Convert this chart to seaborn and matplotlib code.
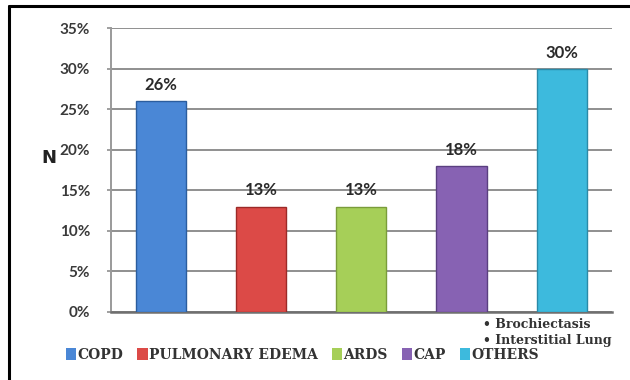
import matplotlib
matplotlib.use("Agg")
import matplotlib.pyplot as plt
import seaborn as sns
import pandas as pd
from matplotlib.patches import Patch
from matplotlib.lines import Line2D

categories = ["COPD", "PULMONARY EDEMA", "ARDS", "CAP", "OTHERS"]
values = [26, 13, 13, 18, 30]
value_labels = ["26%", "13%", "13%", "18%", "30%"]
y_ticks = [0, 5, 10, 15, 20, 25, 30, 35]
y_tick_labels = ["0%", "5%", "10%", "15%", "20%", "25%", "30%", "35%"]
notes = ["• Brochiectasis", "• Interstitial Lung"]
colors = ["#4a87d6", "#dc4a47", "#a6cf58", "#8762b3", "#3dbadd"]
edge_colors = ["#2b5d9e", "#9c2a28", "#7a9c3a", "#5a3f80", "#2a8aa8"]

sns.set_theme(style="white")
plt.rcParams["font.family"] = ["Lato", "DejaVu Sans"]

df = pd.DataFrame({"cat": categories, "val": values})

fig = plt.figure(figsize=(6.3, 3.8), dpi=100)
ax = fig.add_axes([0.176, 0.179, 0.795, 0.747])

sns.barplot(data=df, x="cat", y="val", hue="cat", palette=colors,
            width=0.5, legend=False, ax=ax, zorder=3, saturation=1)
for p, ec in zip(ax.patches, edge_colors):
    p.set_edgecolor(ec)
    p.set_linewidth(1.0)

ax.set_ylim(0, 35)
ax.set_xlim(-0.5, len(categories) - 0.5)
ax.set_yticks(y_ticks)
ax.set_yticklabels(y_tick_labels, fontsize=11, fontweight="bold", color="#3a3a3a")
ax.set_xticks([])
ax.set_xlabel("")
ax.set_ylabel("")
fig.text(0.077, 0.585, "N", fontsize=13, fontweight="bold", color="#222222",
         ha="center", va="center", family=["DejaVu Sans"])
ax.yaxis.grid(True, color="#8f8f8f", linewidth=1.4, zorder=0)
ax.tick_params(axis="y", length=3, width=1.2, color="#8f8f8f", pad=12, left=True)
for s in ["top", "right"]:
    ax.spines[s].set_visible(False)
ax.spines["left"].set_color("#9a9a9a")
ax.spines["left"].set_linewidth(1.4)
ax.spines["bottom"].set_color("#6f6f6f")
ax.spines["bottom"].set_linewidth(1.8)
ax.set_axisbelow(True)

for i, (v, lab) in enumerate(zip(values, value_labels)):
    ax.text(i, v + 1.0, lab, ha="center", va="bottom", fontsize=12,
            fontweight="bold", color="#2a2a2a")

# notes under the last bars
fig.text(0.767, 0.145, notes[0], fontsize=9, family="DejaVu Serif",
         fontweight="bold", color="#333333", va="center", ha="left")
fig.text(0.767, 0.104, notes[1], fontsize=9, family="DejaVu Serif",
         fontweight="bold", color="#333333", va="center", ha="left")

handles = [Patch(facecolor=c, edgecolor="none") for c in colors]
leg = fig.legend(handles, categories, loc="center", bbox_to_anchor=(0.48, 0.066),
                 ncol=5, frameon=False, handlelength=0.75, handleheight=0.9,
                 handletextpad=0.1, columnspacing=1.0,
                 prop={"family": "DejaVu Serif", "weight": "bold", "size": 10})
for t in leg.get_texts():
    t.set_color("#333333")

# black frame lines (top and left)
fig.add_artist(Line2D([0.014, 1.0], [0.983, 0.983], color="black", linewidth=2.2,
                      transform=fig.transFigure))
fig.add_artist(Line2D([0.014, 0.014], [0.0, 0.983], color="black", linewidth=2.2,
                      transform=fig.transFigure))

fig.savefig("out.png", dpi=100)
